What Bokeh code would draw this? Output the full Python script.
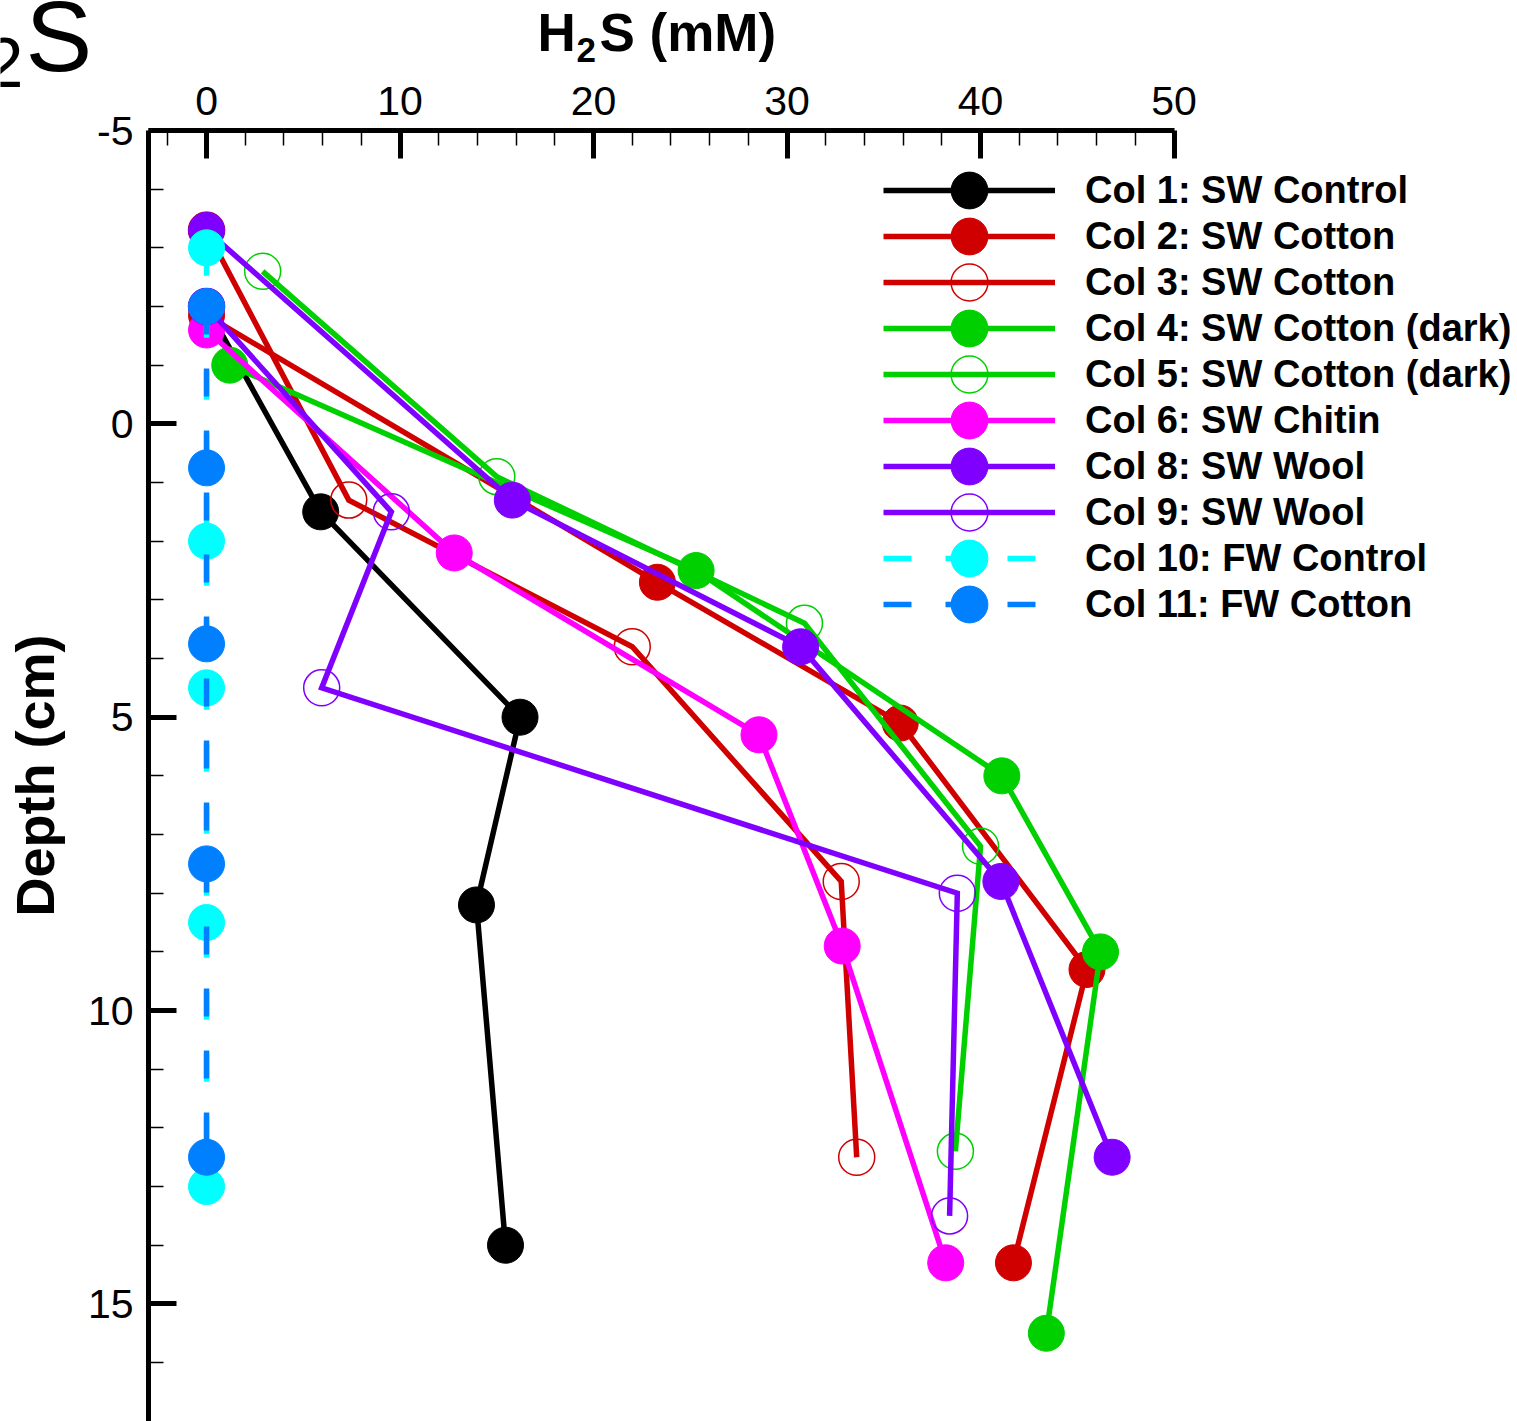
import math
from bokeh.plotting import figure
from bokeh.models import Range1d, FixedTicker, Legend, LegendItem, Label
from bokeh.embed import file_html
from bokeh.resources import INLINE

# ---------------- data (H2S in mM, depth in cm) ----------------
labels = ["Col 1: SW Control", "Col 2: SW Cotton", "Col 3: SW Cotton",
          "Col 4: SW Cotton (dark)", "Col 5: SW Cotton (dark)", "Col 6: SW Chitin",
          "Col 8: SW Wool", "Col 9: SW Wool", "Col 10: FW Control", "Col 11: FW Cotton"]

col1_h2s = [0.0, 5.9, 16.2, 13.95, 15.45]
col1_depth = [-2.0, 1.5, 5.0, 8.2, 14.0]
col2_h2s = [0.0, 23.3, 35.85, 45.5, 41.7]
col2_depth = [-1.85, 2.7, 5.1, 9.3, 14.3]
col3_h2s = [0.0, 7.35, 22.0, 32.8, 33.6]
col3_depth = [-3.3, 1.3, 3.8, 7.8, 12.5]
col4_h2s = [1.2, 25.3, 41.1, 46.2, 43.4]
col4_depth = [-1.0, 2.5, 6.0, 9.0, 15.5]
col5_h2s = [2.9, 15.0, 30.9, 40.0, 38.7]
col5_depth = [-2.6, 0.9, 3.4, 7.2, 12.4]
col6_h2s = [0.0, 12.8, 28.55, 32.85, 38.2]
col6_depth = [-1.6, 2.2, 5.3, 8.9, 14.3]
col8_h2s = [0.0, 15.8, 30.7, 41.05, 46.8]
col8_depth = [-3.3, 1.3, 3.8, 7.8, 12.5]
col9_h2s = [0.0, 9.55, 5.95, 38.8, 38.4]
col9_depth = [-2.0, 1.5, 4.5, 8.0, 13.5]
col10_h2s = [0.0, 0.0, 0.0, 0.0, 0.0]
col10_depth = [-3.0, 2.0, 4.5, 8.5, 13.0]
col11_h2s = [0.0, 0.0, 0.0, 0.0, 0.0]
col11_depth = [-2.0, 0.75, 3.75, 7.5, 12.5]

x_major = [0, 10, 20, 30, 40, 50]
x_minor = [-2, 2, 4, 6, 8, 12, 14, 16, 18, 22, 24, 26, 28, 32, 34, 36, 38, 42, 44, 46, 48]
y_major = [-5, 0, 5, 10, 15]
y_minor = [-4, -3, -2, -1, 1, 2, 3, 4, 6, 7, 8, 9, 11, 12, 13, 14, 16]

# ---------------- styles ----------------
series = [
    (col1_h2s, col1_depth, "#000000", True, "solid"),
    (col2_h2s, col2_depth, "#d00000", True, "solid"),
    (col3_h2s, col3_depth, "#d00000", False, "solid"),
    (col4_h2s, col4_depth, "#00d000", True, "solid"),
    (col5_h2s, col5_depth, "#00d000", False, "solid"),
    (col6_h2s, col6_depth, "#ff00ff", True, "solid"),
    (col8_h2s, col8_depth, "#8000ff", True, "solid"),
    (col9_h2s, col9_depth, "#8000ff", False, "solid"),
    (col10_h2s, col10_depth, "#00ffff", True, "28 34"),
    (col11_h2s, col11_depth, "#0080ff", True, "28 34"),
]

W, H = 1517, 1421
AX_L, AX_T = 148, 130      # where the axes cross, in pixels
PX_X = 19.35               # px per mM
PX_Y = 58.67               # px per cm
X_AX, Y_AX = -3.0, -5.0    # data values at the axes

def px2x(px):
    return X_AX + (px - AX_L) / PX_X

def px2y(py):
    return Y_AX + (py - AX_T) / PX_Y

p = figure(width=W, height=H, output_backend="svg", toolbar_location=None,
           x_range=Range1d(px2x(0), px2x(W)),
           y_range=Range1d(px2y(H), px2y(0)),
           x_axis_location="above",
           min_border_left=0, min_border_top=0, min_border_right=0, min_border_bottom=0)
p.outline_line_color = None
p.xgrid.visible = False
p.ygrid.visible = False
p.background_fill_color = "white"
p.border_fill_color = "white"

for ax in (p.xaxis[0], p.yaxis[0]):
    ax.axis_line_width = 5
    ax.axis_line_color = "black"
    ax.major_tick_in = 28
    ax.major_tick_out = 0
    ax.major_tick_line_width = 5
    ax.minor_tick_in = 15
    ax.minor_tick_out = 0
    ax.minor_tick_line_width = 1.5
    ax.major_label_text_font = "Liberation Sans"
    ax.major_label_text_font_size = "41px"
    ax.major_label_text_color = "black"
    ax.axis_label = None

p.xaxis.ticker = FixedTicker(ticks=x_major, minor_ticks=x_minor)
p.xaxis.bounds = (-3, 50)
p.xaxis.fixed_location = Y_AX
p.xaxis.major_label_standoff = 16
p.yaxis.ticker = FixedTicker(ticks=y_major, minor_ticks=y_minor)
p.yaxis.bounds = (Y_AX, px2y(H) + 0.5)
p.yaxis.fixed_location = X_AX
p.yaxis.major_label_standoff = 15
p.yaxis.major_label_overrides = {-5: "-5"}

items = []
for (xs, ys, col, filled, dash), lab in zip(series, labels):
    rl = p.line(xs, ys, line_color=col, line_width=5.5, line_dash=dash, line_join="miter")
    if filled:
        rm = p.ellipse(xs, ys, width=36, height=36, width_units="screen", height_units="screen",
                       fill_color=col, line_color=col, line_width=1)
    else:
        rm = p.ellipse(xs, ys, width=36, height=36, width_units="screen", height_units="screen",
                       fill_color=None, line_color=col, line_width=1.5)
    items.append(LegendItem(label=lab, renderers=[rl, rm]))

legend = Legend(items=items, location=(883, H - 167 - 460),
                glyph_width=172, glyph_height=46, label_height=46, label_standoff=30,
                spacing=0, padding=0, margin=0, border_line_color=None,
                background_fill_alpha=0,
                label_text_font="Liberation Sans", label_text_font_style="bold",
                label_text_font_size="38px", label_text_color="black")
p.add_layout(legend)

def lab(txt, px, py, size, style="normal", angle=0, align="left", baseline="alphabetic"):
    p.add_layout(Label(x=px2x(px), y=px2y(py), text=txt,
                       text_font="Liberation Sans", text_font_size=size,
                       text_font_style=style, text_color="black", angle=angle,
                       text_align=align, text_baseline=baseline))

# panel title "H2S" (cut at the left edge as in the original)
lab("H", -88, 35, "100px")
lab("2", -16, 62, "70px")
lab("S", 25, 35, "100px")

# x axis title  H2S (mM)
lab("H", 537, 32, "53px", "bold")
lab("2", 576, 49, "35px", "bold")
lab("S (mM)", 599, 32, "53px", "bold")

# y axis title
lab("Depth (cm)", 34, 775, "54px", "bold", angle=math.pi / 2, align="center", baseline="middle")

open("out.html", "w").write(file_html(p, INLINE))
